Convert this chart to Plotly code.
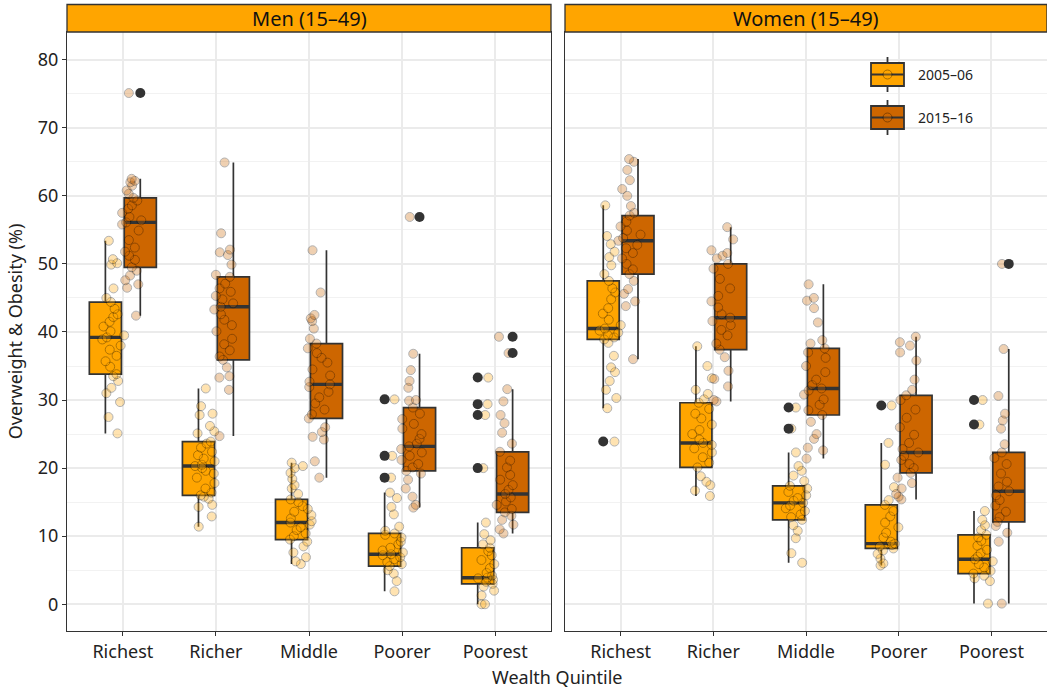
import plotly.graph_objects as go

# ---------------- data ----------------
categories = ["Richest", "Richer", "Middle", "Poorer", "Poorest"]
facet_titles = ["Men (15–49)", "Women (15–49)"]
year_labels = ["2005–06", "2015–16"]
year_colors = ["#FFA500", "#CD6600"]

# Men, 2005-06 : box summaries per quintile
men_0506_lower = [25.1, 11.4, 5.9, 1.9, 0.0]
men_0506_q1 = [33.8, 16.0, 9.5, 5.6, 3.0]
men_0506_median = [39.2, 20.3, 12.0, 7.35, 3.9]
men_0506_q3 = [44.4, 23.9, 15.4, 10.4, 8.3]
men_0506_upper = [53.4, 31.7, 20.8, 16.4, 12.0]
men_0506_points = [
    [25.1, 27.5, 29.7, 31.0, 31.8, 32.8, 33.5, 33.8, 34.9, 35.7, 36.5, 37.4, 38.0, 38.9, 39.2,
     39.5, 40.1, 40.8, 41.5, 42.2, 42.6, 43.4, 44.4, 45.0, 46.4, 49.9, 50.1, 50.7, 53.4],
    [11.4, 12.9, 14.3, 14.6, 15.5, 15.8, 16.0, 16.4, 17.0, 17.8, 18.6, 19.2, 19.6, 20.0, 20.3,
     20.5, 21.0, 21.4, 21.9, 22.4, 23.0, 23.6, 23.9, 25.1, 25.4, 26.2, 27.8, 28.0, 29.1, 31.7],
    [5.9, 6.3, 6.9, 7.6, 8.5, 9.2, 9.5, 10.0, 10.4, 10.9, 11.3, 11.7, 12.0, 12.2, 12.6,
     13.1, 13.6, 14.0, 14.4, 15.0, 15.4, 16.2, 17.0, 17.5, 18.4, 19.3, 20.0, 20.3, 20.8],
    [1.9, 3.4, 4.5, 5.0, 5.6, 5.9, 6.2, 6.6, 6.9, 7.2, 7.35, 7.6, 7.9, 8.3, 8.8,
     9.2, 9.8, 10.2, 10.4, 10.8, 11.4, 13.2, 14.3, 15.6, 16.4],
    [0.0, 0.0, 1.3, 2.0, 2.6, 3.0, 3.3, 3.6, 3.8, 3.9, 4.2, 4.6, 5.3, 5.9, 6.5,
     7.2, 7.8, 8.3, 8.8, 9.4, 10.3, 12.0],
]
men_0506_outliers = [[], [], [], [18.6, 21.8, 30.1], [20.0, 27.8, 29.4, 33.3]]

# Men, 2015-16
men_1516_lower = [42.4, 24.7, 18.6, 14.2, 10.4]
men_1516_q1 = [49.5, 35.9, 27.3, 19.6, 13.5]
men_1516_median = [56.1, 43.7, 32.3, 23.2, 16.2]
men_1516_q3 = [59.7, 48.1, 38.3, 28.9, 22.4]
men_1516_upper = [62.5, 64.9, 52.0, 36.8, 31.6]
men_1516_points = [
    [42.4, 46.5, 47.0, 47.6, 48.3, 49.0, 49.5, 50.6, 51.2, 51.8, 52.4, 53.5, 54.9, 55.8, 56.1,
     56.4, 56.9, 57.5, 58.1, 58.6, 59.3, 59.7, 60.3, 60.8, 61.5, 62.0, 62.2, 62.5],
    [24.7, 31.5, 33.3, 33.5, 34.8, 35.9, 36.4, 37.3, 38.2, 39.0, 40.1, 41.0, 41.8, 42.6, 43.3,
     43.7, 44.2, 44.8, 45.3, 45.9, 46.4, 47.1, 48.1, 48.4, 49.9, 51.3, 51.7, 52.1, 54.5, 64.9],
    [18.6, 21.0, 24.2, 24.6, 25.3, 26.0, 27.3, 27.9, 28.6, 29.5, 30.4, 31.2, 31.9, 32.3, 32.7,
     33.6, 34.5, 35.5, 36.2, 36.9, 37.6, 38.3, 39.0, 40.5, 41.6, 42.0, 42.5, 45.8, 52.0],
    [14.2, 14.6, 15.8, 17.0, 18.3, 19.2, 19.6, 20.1, 20.6, 21.2, 21.8, 22.3, 22.8, 23.2, 23.6,
     24.3, 25.0, 25.8, 26.5, 27.2, 28.0, 28.9, 29.9, 30.0, 31.8, 32.8, 34.4, 36.8],
    [10.4, 11.0, 11.7, 12.4, 13.0, 13.5, 14.0, 14.6, 15.1, 15.7, 16.2, 16.8, 17.5, 18.3, 19.0,
     20.1, 21.1, 22.4, 23.6, 25.2, 26.6, 27.8, 29.8, 31.6],
]
men_1516_outliers = [[75.1], [], [], [56.9], [36.9, 39.3]]

# Women, 2005-06
women_0506_lower = [28.8, 15.9, 6.1, 5.7, 0.1]
women_0506_q1 = [38.9, 20.1, 12.4, 8.2, 4.5]
women_0506_median = [40.5, 23.7, 14.9, 8.9, 6.6]
women_0506_q3 = [47.5, 29.6, 17.4, 14.6, 10.2]
women_0506_upper = [58.6, 37.9, 22.3, 23.7, 13.7]
women_0506_points = [
    [28.8, 30.3, 31.5, 32.8, 34.1, 34.8, 36.5, 38.4, 38.9, 39.2, 39.5, 39.9, 40.2, 40.5, 41.0,
     41.8, 42.7, 43.5, 44.8, 45.8, 46.4, 47.5, 48.5, 49.8, 51.0, 51.8, 52.9, 54.1, 58.6],
    [15.9, 16.7, 17.5, 18.0, 18.8, 20.1, 20.8, 21.6, 22.3, 22.9, 23.4, 23.7, 24.2, 25.0, 25.6,
     26.4, 27.3, 28.0, 28.7, 29.6, 30.1, 30.9, 31.5, 33.2, 35.0, 37.9],
    [6.1, 7.5, 9.7, 10.8, 11.6, 12.4, 12.8, 13.2, 13.7, 14.1, 14.5, 14.9, 15.2, 15.6, 16.0,
     16.5, 17.0, 17.4, 18.1, 18.9, 19.6, 20.3, 22.3],
    [5.7, 6.0, 6.7, 7.4, 7.9, 8.2, 8.5, 8.7, 8.9, 9.2, 9.8, 10.5, 11.3, 12.0, 12.9,
     13.7, 14.6, 15.3, 17.2, 20.5, 23.7],
    [0.1, 3.4, 3.8, 4.2, 4.5, 4.9, 5.4, 5.9, 6.3, 6.6, 7.0, 7.5, 8.0, 8.6, 9.3,
     9.8, 10.2, 10.9, 11.6, 12.4, 13.7],
]
women_0506_outliers = [[23.9], [], [25.8, 28.9], [29.2], [26.4, 30.0]]

# Women, 2015-16
women_1516_lower = [36.0, 29.8, 21.4, 15.4, 0.1]
women_1516_q1 = [48.5, 37.4, 27.8, 19.3, 12.1]
women_1516_median = [53.4, 42.1, 31.7, 22.3, 16.6]
women_1516_q3 = [57.1, 50.0, 37.6, 30.7, 22.3]
women_1516_upper = [65.4, 55.4, 47.0, 39.3, 37.5]
women_1516_points = [
    [36.0, 43.8, 44.5, 45.6, 46.3, 47.5, 48.5, 49.2, 50.0, 50.8, 51.6, 52.3, 52.8, 53.4, 53.8,
     54.3, 54.9, 55.5, 56.2, 57.1, 57.5, 58.5, 60.0, 61.0, 62.3, 63.8, 65.0, 65.4],
    [29.8, 30.0, 32.0, 33.1, 34.3, 36.3, 37.4, 38.3, 39.5, 40.3, 41.0, 41.6, 42.1, 42.6, 43.6,
     44.5, 45.3, 46.4, 47.8, 49.3, 50.0, 50.8, 51.2, 51.6, 52.0, 53.6, 55.4],
    [21.4, 22.6, 23.0, 24.3, 25.0, 26.8, 27.8, 28.5, 29.3, 30.1, 30.8, 31.4, 31.7, 32.2, 33.0,
     34.1, 35.0, 36.2, 37.0, 37.6, 38.3, 38.8, 41.4, 43.5, 44.6, 45.0, 47.0],
    [15.4, 15.8, 16.2, 17.0, 17.8, 18.6, 19.3, 20.0, 20.6, 21.2, 21.8, 22.3, 22.8, 23.7, 24.9,
     26.0, 27.4, 28.6, 30.0, 30.7, 31.5, 33.0, 35.8, 37.0, 38.0, 38.5, 39.3],
    [0.1, 9.2, 10.5, 11.5, 12.1, 12.8, 13.6, 14.5, 15.3, 16.0, 16.6, 17.3, 18.0, 19.2, 20.6,
     21.5, 22.3, 23.5, 25.8, 27.0, 28.0, 30.6, 37.5],
]
women_1516_outliers = [[], [], [], [], [50.0]]

groups = [
    [  # Men
        (men_0506_lower, men_0506_q1, men_0506_median, men_0506_q3, men_0506_upper,
         men_0506_points, men_0506_outliers),
        (men_1516_lower, men_1516_q1, men_1516_median, men_1516_q3, men_1516_upper,
         men_1516_points, men_1516_outliers),
    ],
    [  # Women
        (women_0506_lower, women_0506_q1, women_0506_median, women_0506_q3, women_0506_upper,
         women_0506_points, women_0506_outliers),
        (women_1516_lower, women_1516_q1, women_1516_median, women_1516_q3, women_1516_upper,
         women_1516_points, women_1516_outliers),
    ],
]

# ---------------- styling ----------------
FONT = "Noto Sans"
BOX_OFF = 0.1875   # dodge offset of each box from the category centre
BOX_W = 0.345
PT_OFF = 0.10      # dodge offset of the jittered points
PT_W = 0.26
EDGE = "#333333"

W, H = 1047, 688
M_L, M_R, M_T, M_B = 67, 0, 32, 57
PLOT_W = W - M_L - M_R
PLOT_H = H - M_T - M_B

fig = go.Figure()
axes = [("x", "y"), ("x2", "y2")]

for f, (xa, ya) in enumerate(axes):
    for k, (lo, q1, med, q3, hi, pts, outs) in enumerate(groups[f]):
        sign = -1 if k == 0 else 1
        pos = [i + sign * BOX_OFF for i in range(len(categories))]
        fig.add_trace(go.Box(
            x=pos, q1=q1, median=med, q3=q3, lowerfence=lo, upperfence=hi,
            width=BOX_W, fillcolor=year_colors[k],
            line=dict(color=EDGE, width=1.7), whiskerwidth=0,
            name=year_labels[k], showlegend=False,
            xaxis=xa, yaxis=ya, hoverinfo="skip",
        ))
        # thick median bar (ggplot style)
        fig.add_trace(go.Box(
            x=pos, q1=med, median=med, q3=med, lowerfence=med, upperfence=med,
            width=BOX_W, fillcolor=EDGE, line=dict(color=EDGE, width=3.4),
            whiskerwidth=0, showlegend=False, xaxis=xa, yaxis=ya, hoverinfo="skip",
        ))

for f, (xa, ya) in enumerate(axes):
    for k, (lo, q1, med, q3, hi, pts, outs) in enumerate(groups[f]):
        sign = -1 if k == 0 else 1
        ox, oy = [], []
        for i in range(len(categories)):
            for v in outs[i]:
                ox.append(i + sign * BOX_OFF)
                oy.append(v)
        fig.add_trace(go.Scatter(
            x=ox, y=oy, mode="markers",
            marker=dict(color=EDGE, size=10, line=dict(width=0)),
            showlegend=False, xaxis=xa, yaxis=ya, hoverinfo="skip",
        ))

for f, (xa, ya) in enumerate(axes):
    for k, (lo, q1, med, q3, hi, pts, outs) in enumerate(groups[f]):
        sign = -1 if k == 0 else 1
        px, py = [], []
        for i in range(len(categories)):
            vals = pts[i] + outs[i]
            px += [i + sign * PT_OFF] * len(vals)
            py += vals
        fig.add_trace(go.Box(
            x=px, y=py, boxpoints="all", jitter=1, pointpos=0, width=PT_W,
            fillcolor="rgba(0,0,0,0)", line=dict(color="rgba(0,0,0,0)", width=0),
            whiskerwidth=0,
            marker=dict(color=year_colors[k], size=9, opacity=0.3,
                        line=dict(color="black", width=1)),
            showlegend=False, xaxis=xa, yaxis=ya, hoverinfo="skip",
        ))

# ---------------- axes ----------------
dom_left = [0, 484 / PLOT_W]
dom_right = [498 / PLOT_W, 1.0]

xcommon = dict(
    range=[-0.6, 4.6], tickmode="array", tickvals=list(range(len(categories))),
    ticktext=categories, showgrid=True, gridcolor="#EBEBEB", gridwidth=1.6,
    zeroline=False, showline=True, mirror=True, linecolor=EDGE, linewidth=1.3,
    ticks="outside", ticklen=4, tickcolor=EDGE, tickwidth=1.2,
    tickfont=dict(family=FONT, size=18, color="#222222"),
)
ycommon = dict(
    range=[-3.93, 84.07], tick0=0, dtick=10, showgrid=True, gridcolor="#EBEBEB",
    gridwidth=1.6, zeroline=False, showline=True, mirror=True, linecolor=EDGE,
    linewidth=1.3,
    minor=dict(dtick=5, tick0=0, showgrid=True, gridcolor="#F2F2F2", gridwidth=1),
)

fig.update_layout(
    xaxis=dict(domain=dom_left, anchor="y", **xcommon),
    xaxis2=dict(domain=dom_right, anchor="y2", **xcommon),
    yaxis=dict(anchor="x", ticks="outside", ticklen=4, tickcolor=EDGE, tickwidth=1.2,
               tickfont=dict(family=FONT, size=18, color="#222222"),
               title=dict(text="Overweight & Obesity (%)", standoff=10,
                          font=dict(family=FONT, size=18, color="#222222")),
               **ycommon),
    yaxis2=dict(anchor="x2", matches="y", showticklabels=False, ticks="", **ycommon),
)


def pxx(p):
    return (p - M_L) / PLOT_W


def pxy(p):
    return 1 - (p - M_T) / PLOT_H


# ---------------- facet strips ----------------
shapes, annots = [], []
for dom, title in zip([dom_left, dom_right], facet_titles):
    shapes.append(dict(type="rect", xref="paper", yref="paper", x0=dom[0], x1=dom[1],
                       y0=1.0, y1=pxy(4.5), fillcolor="#FFA500",
                       line=dict(color=EDGE, width=1.3), layer="above"))
    annots.append(dict(text=title, xref="paper", yref="paper",
                       x=(dom[0] + dom[1]) / 2, y=pxy(18.5),
                       xanchor="center", yanchor="middle", showarrow=False,
                       font=dict(family=FONT, size=20, color="#111111")))
annots.append(dict(text="Wealth Quintile", xref="paper", yref="paper", x=0.5, y=pxy(677),
                   xanchor="center", yanchor="middle", showarrow=False,
                   font=dict(family=FONT, size=18, color="#222222")))

# ---------------- legend (ggplot-style box keys) ----------------
for k, label in enumerate(year_labels):
    cy = 74.5 + 43 * k
    cx = 887.5
    shapes.append(dict(type="line", xref="paper", yref="paper", x0=pxx(cx), x1=pxx(cx),
                       y0=pxy(cy - 17.5), y1=pxy(cy + 17.5),
                       line=dict(color=EDGE, width=1.8)))
    shapes.append(dict(type="rect", xref="paper", yref="paper", x0=pxx(cx - 16.5),
                       x1=pxx(cx + 16.5), y0=pxy(cy + 11.5), y1=pxy(cy - 11.5),
                       fillcolor=year_colors[k], line=dict(color=EDGE, width=1.8)))
    shapes.append(dict(type="line", xref="paper", yref="paper", x0=pxx(cx - 16.5),
                       x1=pxx(cx + 16.5), y0=pxy(cy), y1=pxy(cy),
                       line=dict(color=EDGE, width=2.2)))
    shapes.append(dict(type="circle", xref="paper", yref="paper", x0=pxx(cx - 4.5),
                       x1=pxx(cx + 4.5), y0=pxy(cy + 4.5), y1=pxy(cy - 4.5),
                       fillcolor=year_colors[k], opacity=0.35,
                       line=dict(color="black", width=1)))
    annots.append(dict(text=label, xref="paper", yref="paper", x=pxx(916), y=pxy(cy),
                       xanchor="left", yanchor="middle", showarrow=False,
                       font=dict(family=FONT, size=14, color="#222222")))

fig.update_layout(
    width=W, height=H,
    margin=dict(l=M_L, r=M_R, t=M_T, b=M_B, pad=0),
    template="none",
    paper_bgcolor="white", plot_bgcolor="white",
    font=dict(family=FONT, size=16, color="#222222"),
    shapes=shapes, annotations=annots,
    boxmode="overlay", hovermode=False,
    showlegend=False,
)

fig.write_html("out.html",
               config={"displayModeBar": False, "staticPlot": False},
               post_script="document.body.style.margin='0';document.body.style.overflow='hidden';")
